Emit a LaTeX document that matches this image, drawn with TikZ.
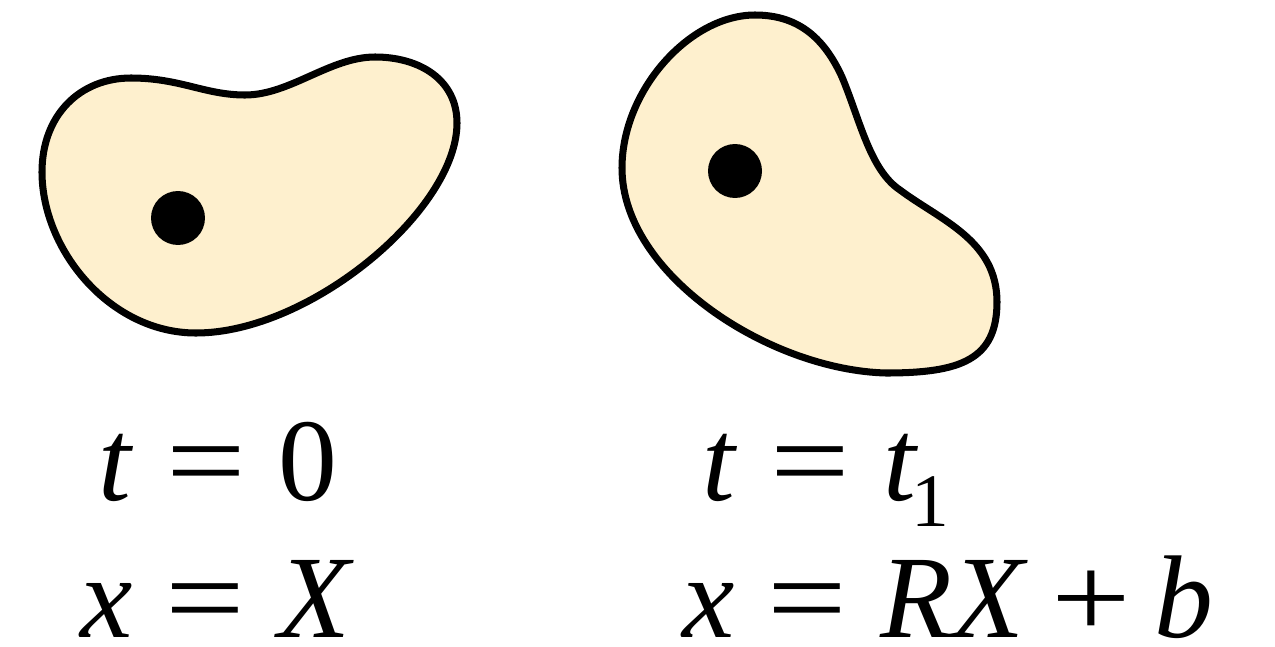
\documentclass[tikz,border=0pt]{standalone}
\usepackage{fontspec}
\usepackage{graphicx}
\setmainfont{Liberation Serif}
\usetikzlibrary{positioning}
\definecolor{blobfill}{RGB}{254,240,206}
\newcommand{\rel}{\hspace{0.28em}}
\newcommand{\bin}{\hspace{0.2em}}
\newcommand{\eqs}{\scalebox{1.2}[1]{=}}
\newcommand{\pls}{\scalebox{1.2}[1]{+}}

\begin{document}
\begin{tikzpicture}[x=0.02cm, y=-0.02cm,
  blob/.style={draw=black, line width=4pt, fill=blobfill, line join=round},
  dot/.style={circle, fill=black, inner sep=0pt, minimum size=1.08cm},
  eqn/.style={anchor=base west, inner sep=0pt, text depth=0pt, font=\fontsize{67}{72}\selectfont}]
\useasboundingbox (0,0) rectangle (1275,646);
% body at t = 0
\draw[blob] (42,172) .. controls (42,115) and (80,78) .. (131,78)
  .. controls (180,78) and (205,95) .. (245,95)
  .. controls (290,95) and (330,57) .. (375,57)
  .. controls (420,57) and (457,80) .. (457,123)
  .. controls (457,210) and (310,333) .. (196,333)
  .. controls (110,333) and (42,250) .. cycle;
\node[dot] (p0) at (178,218) {};
% body at t = t1
\draw[blob] (755,15) .. controls (800,15) and (825,40) .. (842,77)
  .. controls (860,120) and (870,170) .. (900,190)
  .. controls (940,220) and (997,240) .. (997,302)
  .. controls (997,360) and (960,373) .. (886,373)
  .. controls (770,370) and (622,275) .. (622,168)
  .. controls (622,90) and (690,15) .. cycle;
\node[dot] (p1) at (735,171) {};
% labels
\node[eqn] (t0) at (98,500) {\textit{t}\rel\eqs\rel0};
\node[eqn] (x0) at (80,637) {\textit{x}\rel\eqs\rel\textit{X}};
\node[eqn] (t1) at (702,500) {\textit{t}\rel\eqs\rel\textit{t}\kern-0.06em\raisebox{-15pt}{\fontsize{43}{43}\selectfont 1}};
\node[eqn] (x1) at (682,637) {\textit{x}\rel\eqs\rel\textit{RX}\bin\pls\bin\textit{b}};
\end{tikzpicture}
\end{document}
